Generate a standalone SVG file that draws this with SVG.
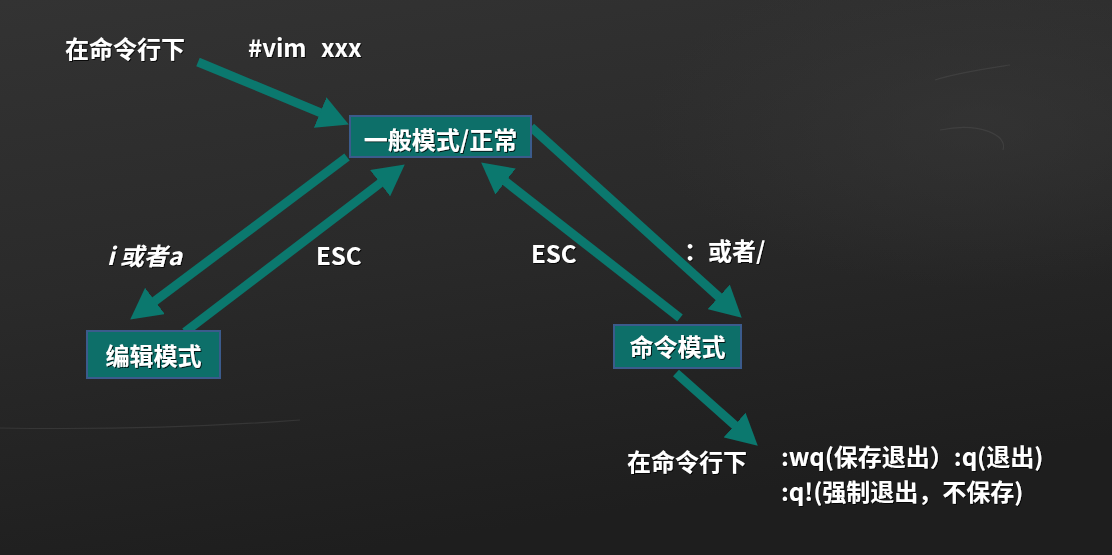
<svg xmlns="http://www.w3.org/2000/svg" width="1112" height="555" viewBox="0 0 1112 555">
  <defs>
    <linearGradient id="bg" x1="0" y1="0" x2="0.3" y2="1">
      <stop offset="0" stop-color="#333333"/>
      <stop offset="0.5" stop-color="#2a2a2a"/>
      <stop offset="1" stop-color="#1e1e1e"/>
    </linearGradient>
    <radialGradient id="glow" cx="0.88" cy="0.22" r="0.3">
      <stop offset="0" stop-color="#3a3a3a" stop-opacity="0.5"/>
      <stop offset="1" stop-color="#3a3a3a" stop-opacity="0"/>
    </radialGradient>
    <marker id="ah" markerUnits="userSpaceOnUse" markerWidth="31" markerHeight="33" refX="2" refY="16.5" orient="auto">
      <path d="M0,0 L31,16.5 L0,33 Z" fill="#0b786e"/>
    </marker>
    <filter id="sh" x="-10%" y="-20%" width="120%" height="140%">
      <feDropShadow dx="1" dy="1" stdDeviation="0.6" flood-color="#000" flood-opacity="0.8"/>
    </filter>
  </defs>
  <style>
    .t { font-family: "Noto Sans CJK SC", "Liberation Sans", sans-serif; font-weight: bold; font-size: 24px; fill: #ffffff; white-space: pre; }
    .box { fill: #0d6f69; stroke: #3b5b8c; stroke-width: 2; }
    .conn { stroke: #0b786e; stroke-width: 9; fill: none; marker-end: url(#ah); }
    .chalk { stroke: #5a5a5a; stroke-width: 1.2; fill: none; opacity: 0.35; }
  </style>

  <rect width="1112" height="555" fill="url(#bg)"/>
  <rect width="1112" height="555" fill="url(#glow)"/>
  <path class="chalk" d="M0,428 C120,430 220,426 300,420"/>
  <path class="chalk" d="M935,80 C960,72 990,68 1010,65"/>
  <path class="chalk" d="M940,130 C980,122 1008,135 1003,150"/>

  <g id="connectors">
    <line class="conn" x1="198" y1="62" x2="322" y2="113.3"/>
    <line class="conn" x1="347" y1="157" x2="153.4" y2="302.2"/>
    <line class="conn" x1="185" y1="332" x2="381.7" y2="182"/>
    <line class="conn" x1="680" y1="318" x2="504" y2="180.3"/>
    <line class="conn" x1="531" y1="127" x2="720.2" y2="298.2"/>
    <line class="conn" x1="676" y1="373" x2="736.1" y2="426.4"/>
  </g>

  <g id="node-normal">
    <rect class="box" x="350" y="116" width="181" height="41"/>
    <text class="t" x="440.5" y="149" text-anchor="middle" filter="url(#sh)">一般模式/正常</text>
  </g>
  <g id="node-edit">
    <rect class="box" x="87" y="331" width="133" height="47"/>
    <text class="t" x="153.5" y="365" text-anchor="middle" filter="url(#sh)">编辑模式</text>
  </g>
  <g id="node-command">
    <rect class="box" x="614" y="325" width="127" height="43"/>
    <text class="t" x="677.5" y="356" text-anchor="middle" filter="url(#sh)">命令模式</text>
  </g>

  <g id="labels" filter="url(#sh)">
    <text class="t" x="65" y="58">在命令行下</text>
    <text class="t" x="248" y="57" font-size="25">#vim  <tspan x="321">xxx</tspan></text>
    <text class="t" x="107" y="265" font-style="italic">i 或者a</text>
    <text class="t" x="316" y="265">ESC</text>
    <text class="t" x="531" y="263">ESC</text>
    <text class="t" x="684" y="260">：或者/</text>
    <text class="t" x="627" y="471">在命令行下</text>
    <text class="t" x="781" y="466">:wq(保存退出）:q(退出)</text>
    <text class="t" x="781" y="501">:q!(强制退出，不保存)</text>
  </g>
</svg>
